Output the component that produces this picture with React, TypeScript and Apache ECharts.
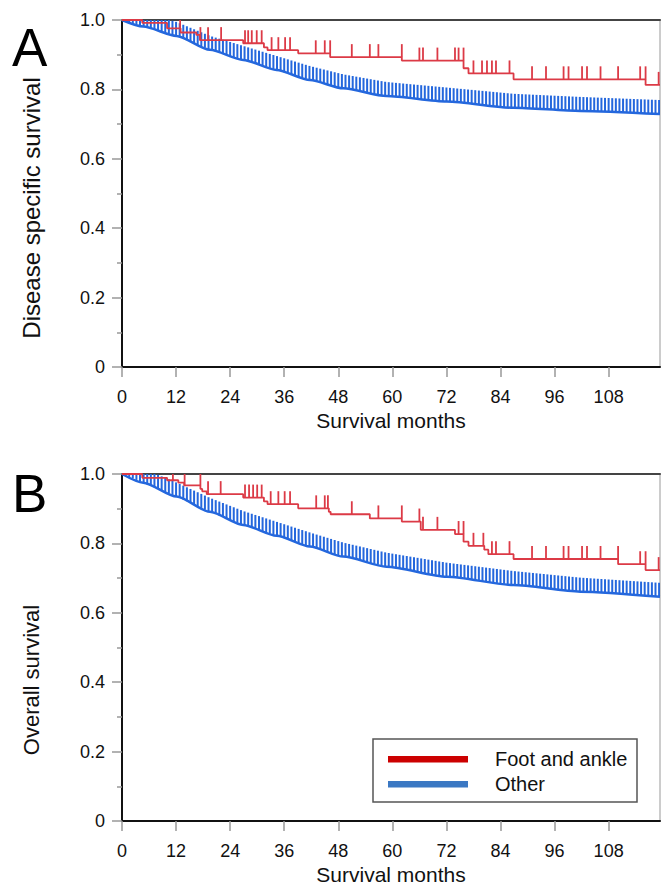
import React, { useEffect, useRef } from "react";
import * as echarts from "echarts";

const FONT = "'Liberation Sans', Arial, Helvetica, sans-serif";
const RED = "#dc3a46";
const BLUE = "#2467dd";
const LEGEND_RED = "#cc0000";
const LEGEND_BLUE = "#3b78c3";

const xTickValues = [0, 12, 24, 36, 48, 60, 72, 84, 96, 108];
const xMax = 119.4;
const yTickStep = 0.2;

// Panel A: disease specific survival
const dssFootSteps: [number, number][] = [
  [0, 1.0], [4.5, 0.992], [10, 0.976], [13, 0.964], [16.5, 0.957], [17.3, 0.942],
  [26.9, 0.933], [31.5, 0.921], [32.3, 0.913], [39.1, 0.904], [46.2, 0.893],
  [62.1, 0.883], [75.8, 0.861], [76.9, 0.846], [86.9, 0.829], [116.2, 0.813],
];
const dssFootCensor = [
  12.9, 17.4, 19.1, 22, 27.3, 28, 28.8, 29.9, 31, 33.2, 34.7, 36.2, 37.3, 43, 45, 46.2,
  51, 55, 56.9, 62.1, 66, 66.8, 70, 73.9, 74.7, 75.8, 78, 79.9, 81, 82.1, 83, 86,
  91, 94.1, 98, 99.1, 102.1, 103.2, 106.2, 110.1, 115, 116.2, 119.1,
];
const dssOtherCurve: [number, number][] = [
  [0, 1.0], [4.7, 0.981], [12.1, 0.954], [19.5, 0.914], [26.9, 0.885], [34.3, 0.856],
  [41.7, 0.827], [49.1, 0.803], [58.7, 0.781], [72.1, 0.765], [86.9, 0.747],
  [101.7, 0.738], [119.4, 0.729],
];

// Panel B: overall survival
const osFootSteps: [number, number][] = [
  [0, 1.0], [4.5, 0.989], [10, 0.982], [12.5, 0.975], [13.8, 0.967], [17.4, 0.957],
  [17.8, 0.95], [18.8, 0.942], [26.9, 0.932], [31.5, 0.921], [32.3, 0.913], [39.1, 0.901],
  [45.9, 0.891], [46.3, 0.884], [55.0, 0.872], [62.1, 0.863], [66.3, 0.839], [73.9, 0.827],
  [75.8, 0.805], [76.9, 0.793], [80.4, 0.782], [81.3, 0.769], [86.9, 0.755], [110.1, 0.74],
  [116.2, 0.723],
];
const osFootCensor = [
  11.3, 13.9, 17.4, 19.1, 21.9, 27.3, 28.2, 29.1, 30, 31, 33, 34.7, 36.1, 37.3, 43.1, 45,
  45.7, 51, 56.9, 62.1, 66, 66.8, 70, 74.7, 75.8, 78, 80.2, 82.1, 83, 86, 91, 94.1, 98,
  99.1, 102.1, 103.2, 106.2, 110.1, 115, 116.2, 119.1,
];
const osOtherCurve: [number, number][] = [
  [0, 1.0], [4.7, 0.975], [12.1, 0.935], [19.5, 0.891], [26.9, 0.853], [34.3, 0.822],
  [41.7, 0.791], [49.1, 0.762], [58.7, 0.733], [72.1, 0.704], [86.9, 0.68],
  [101.7, 0.661], [119.4, 0.646],
];

// Censoring marks of the "Other" group (shared by both panels)
const otherCensor = [
  0.8, 1.6, 2.4, 3.2, 4.0, 4.8, 5.6, 6.4, 7.2, 8.0, 8.8, 9.6, 10.4, 11.2, 12.0,
  12.8, 13.6, 14.4, 15.2, 16.0, 16.8, 17.6, 18.4, 19.2, 20.0, 20.8, 21.6, 22.4, 23.2, 24.0,
  24.8, 25.6, 26.4, 27.2, 28.0, 28.8, 29.6, 30.4, 31.2, 32.0, 32.8, 33.6, 34.4, 35.2, 36.0,
  36.8, 37.6, 38.4, 39.2, 40.0, 40.8, 41.6, 42.4, 43.2, 44.0, 44.8, 45.6, 46.4, 47.2, 48.0,
  48.8, 49.6, 50.4, 51.2, 52.0, 52.8, 53.6, 54.4, 55.2, 56.0, 56.8, 57.6, 58.4, 59.2, 60.0,
  60.8, 61.6, 62.4, 63.2, 64.0, 64.8, 65.6, 66.4, 67.2, 68.0, 68.8, 69.6, 70.4, 71.2, 72.0,
  72.8, 73.6, 74.4, 75.2, 76.0, 76.8, 77.6, 78.4, 79.2, 80.0, 80.8, 81.6, 82.4, 83.2, 84.0,
  84.8, 85.6, 86.4, 87.2, 88.0, 88.8, 89.6, 90.4, 91.2, 92.0, 92.8, 93.6, 94.4, 95.2, 96.0,
  96.8, 97.6, 98.4, 99.2, 100.0, 100.8, 101.6, 102.4, 103.2, 104.0, 104.8, 105.6, 106.4, 107.2, 108.0,
  108.8, 109.6, 110.4, 111.2, 112.0, 112.8, 113.6, 114.4, 115.2, 116.0, 116.8, 117.6, 118.4, 119.2,
];

const panelTitles = ["Disease specific survival", "Overall survival"];
const panelLetters = ["A", "B"];
const xTitle = "Survival months";
const legendNames = ["Foot and ankle", "Other"];

function stepAt(steps: [number, number][], t: number) {
  let v = steps[0][1];
  for (const [x, y] of steps) {
    if (x < t) v = y;
    else break;
  }
  return v;
}
function lineAt(curve: [number, number][], t: number) {
  for (let i = 1; i < curve.length; i++) {
    const [x0, y0] = curve[i - 1];
    const [x1, y1] = curve[i];
    if (t <= x1) return y0 + ((y1 - y0) * (t - x0)) / (x1 - x0);
  }
  return curve[curve.length - 1][1];
}

const GRID_LEFT = 122;
const GRID_W = 538;
const GRID_H = 347;
const GRID_TOPS = [20, 474];

function tickSeries(g: number, name: string, data: number[][], color: string, h: number, w: number) {
  return {
    name,
    type: "custom",
    coordinateSystem: "cartesian2d",
    xAxisIndex: g,
    yAxisIndex: g,
    clip: true,
    silent: true,
    data,
    renderItem: (_params: any, api: any) => {
      const pt = api.coord([api.value(0), api.value(1)]);
      return {
        type: "line",
        shape: { x1: pt[0], y1: pt[1], x2: pt[0], y2: pt[1] - h },
        style: { stroke: color, lineWidth: w },
      };
    },
  };
}

export default function App() {
  const ref = useRef<HTMLDivElement>(null);
  useEffect(() => {
    if (!ref.current) return;
    const chart = echarts.init(ref.current, undefined, { renderer: "svg" });

    const panels = [
      { foot: dssFootSteps, footCensor: dssFootCensor, other: dssOtherCurve },
      { foot: osFootSteps, footCensor: osFootCensor, other: osOtherCurve },
    ];

    const grids = GRID_TOPS.map((top) => ({ left: GRID_LEFT, top, width: GRID_W, height: GRID_H }));

    const xAxes: any[] = [];
    const yAxes: any[] = [];
    [0, 1].forEach((g) => {
      xAxes.push({
        type: "value",
        gridIndex: g,
        min: 0,
        max: xMax,
        name: xTitle,
        nameLocation: "middle",
        nameGap: 43,
        nameTextStyle: { fontSize: 21, color: "#111", fontFamily: FONT },
        axisLine: { show: true, onZero: false, lineStyle: { color: "#111", width: 2 } },
        axisTick: { show: true, customValues: xTickValues, length: 10, lineStyle: { color: "#999", width: 1.5 } },
        axisLabel: { show: true, customValues: xTickValues, fontSize: 18, color: "#111", margin: 21, fontFamily: FONT },
        splitLine: { show: false },
      });
      yAxes.push({
        type: "value",
        gridIndex: g,
        min: 0,
        max: 1,
        interval: yTickStep,
        axisLine: { show: true, onZero: false, lineStyle: { color: "#111", width: 2 } },
        axisTick: { show: true, length: 10, lineStyle: { color: "#999", width: 1.5 } },
        minorTick: { show: true, splitNumber: 2, length: 5, lineStyle: { color: "#999", width: 1.5 } },
        axisLabel: {
          fontSize: 18,
          color: "#111",
          margin: 17,
          fontFamily: FONT,
          formatter: (v: number) => (v === 0 ? "0" : v.toFixed(1)),
        },
        splitLine: { show: false },
        minorSplitLine: { show: false },
      });
    });
    [0, 1].forEach((g) => {
      xAxes.push({
        type: "value",
        gridIndex: g,
        position: "top",
        min: 0,
        max: xMax,
        axisLine: { show: true, onZero: false, lineStyle: { color: "#444", width: 2 } },
        axisTick: { show: false },
        axisLabel: { show: false },
        splitLine: { show: false },
      });
      yAxes.push({
        type: "value",
        gridIndex: g,
        position: "right",
        min: 0,
        max: 1,
        axisLine: { show: true, onZero: false, lineStyle: { color: "#bbb", width: 1.5 } },
        axisTick: { show: false },
        axisLabel: { show: false },
        splitLine: { show: false },
      });
    });

    const series: any[] = [];
    panels.forEach((p, g) => {
      series.push({
        name: legendNames[1],
        type: "line",
        xAxisIndex: g,
        yAxisIndex: g,
        data: p.other,
        showSymbol: false,
        symbol: "none",
        smooth: 0.25,
        smoothMonotone: "x",
        lineStyle: { color: BLUE, width: 2.5 },
        silent: true,
      });
      series.push(
        tickSeries(g, legendNames[1] + " censored", otherCensor.map((t) => [t, lineAt(p.other, t)]), BLUE, 14, 2)
      );
      const last = p.foot[p.foot.length - 1][1];
      series.push({
        name: legendNames[0],
        type: "line",
        step: "end",
        xAxisIndex: g,
        yAxisIndex: g,
        data: [...p.foot, [xMax, last]],
        showSymbol: false,
        symbol: "none",
        lineStyle: { color: RED, width: 1.8 },
        silent: true,
      });
      series.push(
        tickSeries(g, legendNames[0] + " censored", p.footCensor.map((t) => [t, stepAt(p.foot, t)]), RED, 13, 1.8)
      );
    });

    const graphic: any[] = [
      { type: "text", left: 12, top: 21, style: { text: panelLetters[0], font: `53px ${FONT}`, fill: "#000" } },
      { type: "text", left: 12, top: 467, style: { text: panelLetters[1], font: `53px ${FONT}`, fill: "#000" } },
      {
        type: "text",
        x: 31,
        y: 208,
        rotation: Math.PI / 2,
        style: { text: panelTitles[0], font: `24px ${FONT}`, fill: "#111", align: "center", verticalAlign: "middle" },
      },
      {
        type: "text",
        x: 31,
        y: 680,
        rotation: Math.PI / 2,
        style: { text: panelTitles[1], font: `22px ${FONT}`, fill: "#111", align: "center", verticalAlign: "middle" },
      },
      {
        type: "rect",
        shape: { x: 373, y: 739, width: 264, height: 63 },
        style: { fill: "#fff", stroke: "#555", lineWidth: 1.5 },
        z: 10,
      },
      { type: "rect", shape: { x: 388, y: 756, width: 80, height: 6.5 }, style: { fill: LEGEND_RED }, z: 11 },
      { type: "rect", shape: { x: 388, y: 781, width: 80, height: 6.5 }, style: { fill: LEGEND_BLUE }, z: 11 },
      {
        type: "text",
        x: 495,
        y: 759,
        style: { text: legendNames[0], font: `20px ${FONT}`, fill: "#111", verticalAlign: "middle", align: "left" },
        z: 11,
      },
      {
        type: "text",
        x: 495,
        y: 784,
        style: { text: legendNames[1], font: `20px ${FONT}`, fill: "#111", verticalAlign: "middle", align: "left" },
        z: 11,
      },
    ];

    chart.setOption({
      animation: false,
      backgroundColor: "#fff",
      textStyle: { fontFamily: FONT },
      grid: grids,
      xAxis: xAxes,
      yAxis: yAxes,
      series,
      graphic,
    });
    return () => chart.dispose();
  }, []);

  return (
    <div
      ref={ref}
      style={{ position: "absolute", left: 0, top: 0, width: 662, height: 888, background: "#fff" }}
    />
  );
}
